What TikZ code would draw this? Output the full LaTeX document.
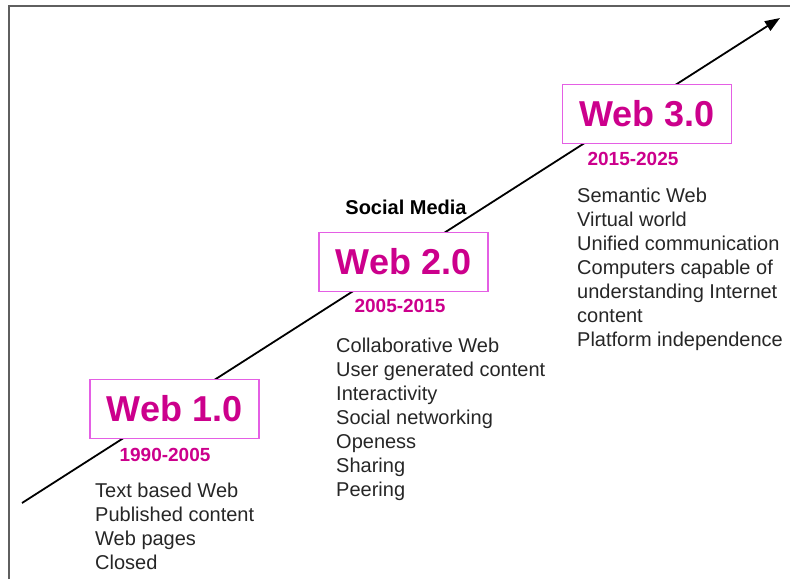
\documentclass[tikz,border=0pt]{standalone}
\usepackage{fontspec}
\setmainfont{Liberation Sans}
\usetikzlibrary{arrows.meta}
\definecolor{webpink}{RGB}{204,0,140}
\definecolor{boxpink}{RGB}{228,95,228}
\definecolor{framegray}{RGB}{95,95,95}

\begin{document}
\begin{tikzpicture}[x=1pt, y=-1pt,
    webbox/.style={draw=boxpink, line width=1.3pt, fill=white, minimum width=169pt, minimum height=59pt,
        font=\fontsize{36}{40}\selectfont\bfseries, text=webpink},
    era/.style={font=\fontsize{19}{22}\selectfont\bfseries, text=webpink},
    feats/.style={anchor=north west, align=left, inner sep=0pt,
        font=\fontsize{20}{24}\selectfont, text=black!85}]

    \useasboundingbox (0,0) rectangle (790,579);

    % frame
    \draw[framegray, line width=2pt] (9,579) -- (9,6) -- (790,6);

    % time line
    \coordinate (start) at (22,503);
    \coordinate (tip) at (780,18);
    \draw[line width=1.8pt, -{Triangle[length=15pt, width=11pt]}] (start) -- (tip);

    % Web 1.0
    \node[webbox] (web1) at (174.5,409) {Web 1.0};
    \node[era] (era1) at (165,455) {1990-2005};
    \node[feats] (feat1) at (95,482.5) {Text based Web\\Published content\\Web pages\\Closed};

    % Web 2.0
    \node[font=\fontsize{20}{24}\selectfont\bfseries] (social) at (406,207) {Social Media};
    \node[webbox] (web2) at (403.5,262) {Web 2.0};
    \node[era] (era2) at (400,306) {2005-2015};
    \node[feats] (feat2) at (336,337.5) {Collaborative Web\\User generated content\\Interactivity\\Social networking\\Openess\\Sharing\\Peering};

    % Web 3.0
    \node[webbox] (web3) at (647,114) {Web 3.0};
    \node[era] (era3) at (633,159) {2015-2025};
    \node[feats] (feat3) at (577,187.5) {Semantic Web\\Virtual world\\Unified communication\\Computers capable of\\understanding Internet\\content\\Platform independence};

\end{tikzpicture}
\end{document}
